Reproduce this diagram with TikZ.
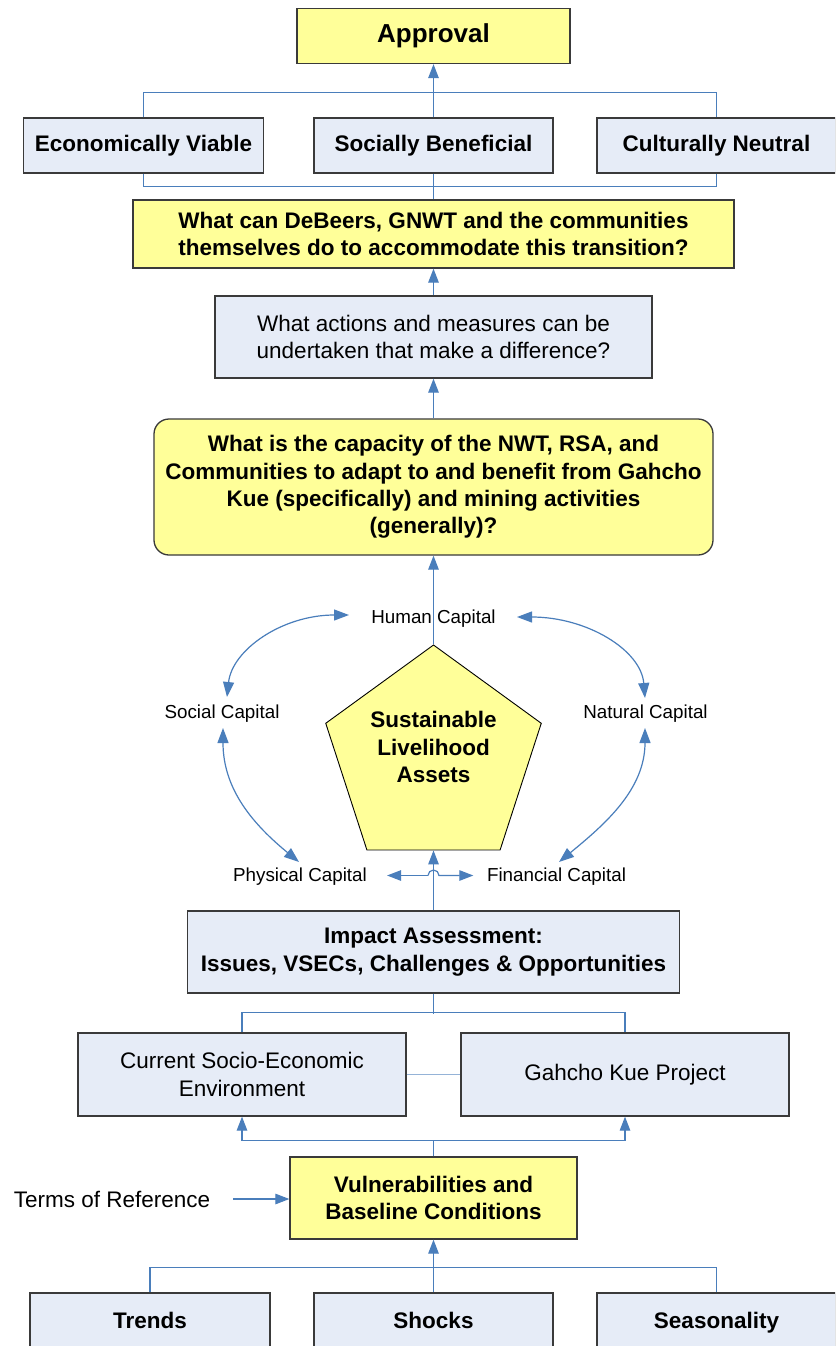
\documentclass[tikz,border=0pt]{standalone}
\usepackage{fontspec}
\setmainfont{Liberation Sans}
\usetikzlibrary{shapes.geometric,arrows.meta,calc}
\definecolor{ybox}{HTML}{FFFF99}
\definecolor{bbox}{HTML}{E6ECF7}
\definecolor{edgec}{HTML}{3A3A3A}
\definecolor{conc}{HTML}{4A7EBB}
\definecolor{lconc}{HTML}{95B3D7}
\begin{document}
\begin{tikzpicture}[x=1pt,y=-1pt,
  bigf/.style={font=\fontsize{22.5}{27.3}\selectfont\bfseries},
  normf/.style={font=\fontsize{22.5}{27.3}\selectfont},
  capf/.style={font=\fontsize{18.8}{22}\selectfont, inner sep=0pt},
  yb/.style={rectangle, draw=edgec, line width=1.3pt, fill=ybox, inner sep=0pt, align=center},
  bb/.style={rectangle, draw=edgec, line width=1.3pt, fill=bbox, inner sep=0pt, align=center},
  conn/.style={draw=conc, line width=1.2pt},
  lconn/.style={draw=lconc, line width=1.6pt},
  arr/.style={conn, -{Triangle[length=14pt,width=10.5pt]}},
  darr/.style={conn, {Triangle[length=15pt,width=11pt]}-{Triangle[length=15pt,width=11pt]}}]
\useasboundingbox (0,0) rectangle (835,1346);
\fill[white] (0,0) rectangle (835,1346);
\clip (0,0) rectangle (835,1346);

% top
\node[yb, minimum width=273pt, minimum height=55pt, font=\fontsize{26}{30}\selectfont\bfseries] (approval) at (433.5,36) {Approval};
\node[bb, minimum width=240pt, minimum height=55pt, bigf] (econ) at (143.5,145.5) {Economically Viable};
\node[bb, minimum width=239pt, minimum height=55pt, bigf] (social) at (433.5,145.5) {Socially Beneficial};
\node[bb, minimum width=239pt, minimum height=55pt, bigf] (cultural) at (716.5,145.5) {Culturally Neutral};
\node[yb, minimum width=601pt, minimum height=68pt, bigf] (question) at (433.5,234) {What can DeBeers, GNWT and the communities\\themselves do to accommodate this transition?};
\node[bb, minimum width=437pt, minimum height=82pt, normf] (actions) at (433.5,337) {What actions and measures can be\\undertaken that make a difference?};
\node[yb, rounded corners=15pt, minimum width=559pt, minimum height=136pt, bigf] (capacity) at (433.5,487) {What is the capacity of the NWT, RSA, and\\Communities to adapt to and benefit from Gahcho\\Kue (specifically) and mining activities\\(generally)?};

% pentagon
\node[regular polygon, regular polygon sides=5, minimum size=226.6pt, inner sep=0pt, draw=black, line width=0.9pt, fill=ybox] (pent) at (433.5,758.3) {};
\node[bigf, align=center, inner sep=0pt] (penttext) at (433.5,747) {Sustainable\\Livelihood\\Assets};

\node[capf] (human) at (433.5,619) {Human Capital};
\node[capf] (socialc) at (222,713.5) {Social Capital};
\node[capf] (natural) at (645.5,713.5) {Natural Capital};
\node[capf] (physical) at (300,877) {Physical Capital};
\node[capf] (financial) at (556.5,877) {Financial Capital};

% lower
\node[bb, minimum width=492.5pt, minimum height=82pt, bigf] (impact) at (433.5,952) {Impact Assessment:\\Issues, VSECs, Challenges \& Opportunities};
\node[bb, minimum width=328pt, minimum height=83pt, normf] (current) at (242,1074.5) {Current Socio-Economic\\Environment};
\node[bb, minimum width=328pt, minimum height=83pt, normf] (gahcho) at (625,1074.5) {Gahcho Kue Project};
\node[yb, minimum width=287pt, minimum height=82pt, bigf] (vulner) at (433.5,1198) {Vulnerabilities and\\Baseline Conditions};
\node[normf, inner sep=0pt] (terms) at (112,1199) {Terms of Reference};
\node[bb, minimum width=240pt, minimum height=55pt, bigf, text height=16pt, text depth=0pt] (trends) at (150,1320.5) {Trends};
\node[bb, minimum width=239pt, minimum height=55pt, bigf, text height=16pt, text depth=0pt] (shocks) at (433.5,1320.5) {Shocks};
\node[bb, minimum width=239pt, minimum height=55pt, bigf, text height=16pt, text depth=0pt] (season) at (716.5,1320.5) {Seasonality};

% connectors top
\draw[conn] (econ.south) -- ++(0,12.5) -| (cultural.south);
\draw[conn] (question.north) -- (social.south);
\draw[conn] (econ.north) -- ++(0,-25) -| (cultural.north);
\draw[arr] (social.north) -- (approval.south);
\draw[arr] (actions.north) -- (question.south);
\draw[arr] (capacity.north) -- (actions.south);
\draw[arr] (pent.corner 1) -- (capacity.south);
\draw[arr] (impact.north) -- (pent.south);

% capital arrows
\coordinate (hopL) at (428,875.5);
\draw[arr, shorten >=20pt] (hopL) -- (physical.east |- hopL);
\draw[arr, shorten >=13.5pt] (hopL) arc(180:360:5.5) -- (financial.west |- hopL);
\draw[darr] ($(human.center)+(-84.5,-4)$) .. controls (282,615) and (232,650) .. ($(socialc.center)+(5,-16.5)$);
\draw[darr] ($(human.center)+(83.5,-2)$) .. controls (587,617) and (641,650) .. ($(natural.center)+(-0.5,-15.5)$);
\draw[darr] ($(socialc.center)+(1,14.5)$) .. controls (223,790) and (254,825) .. ($(physical.center)+(-1,-15)$);
\draw[darr] ($(natural.center)+(-0.5,14.5)$) .. controls (645,790) and (604,825) .. ($(financial.center)+(2.5,-15)$);

% connectors bottom
\draw[conn] (current.north) -- ++(0,-20) -| (gahcho.north);
\draw[conn] (impact.south) -- ++(0,20);
\draw[lconn] (current.east) -- (gahcho.west);
\draw[arr] (vulner.north) -- ++(0,-16) -| (current.south);
\draw[arr] (vulner.north) -- ++(0,-16) -| (gahcho.south);
\draw[arr, shorten <=23pt] (terms.east) -- (terms.east -| vulner.west);
\draw[conn] (trends.north) -- ++(0,-25) -| (season.north);
\draw[arr] (shocks.north) -- (vulner.south);
\end{tikzpicture}
\end{document}
